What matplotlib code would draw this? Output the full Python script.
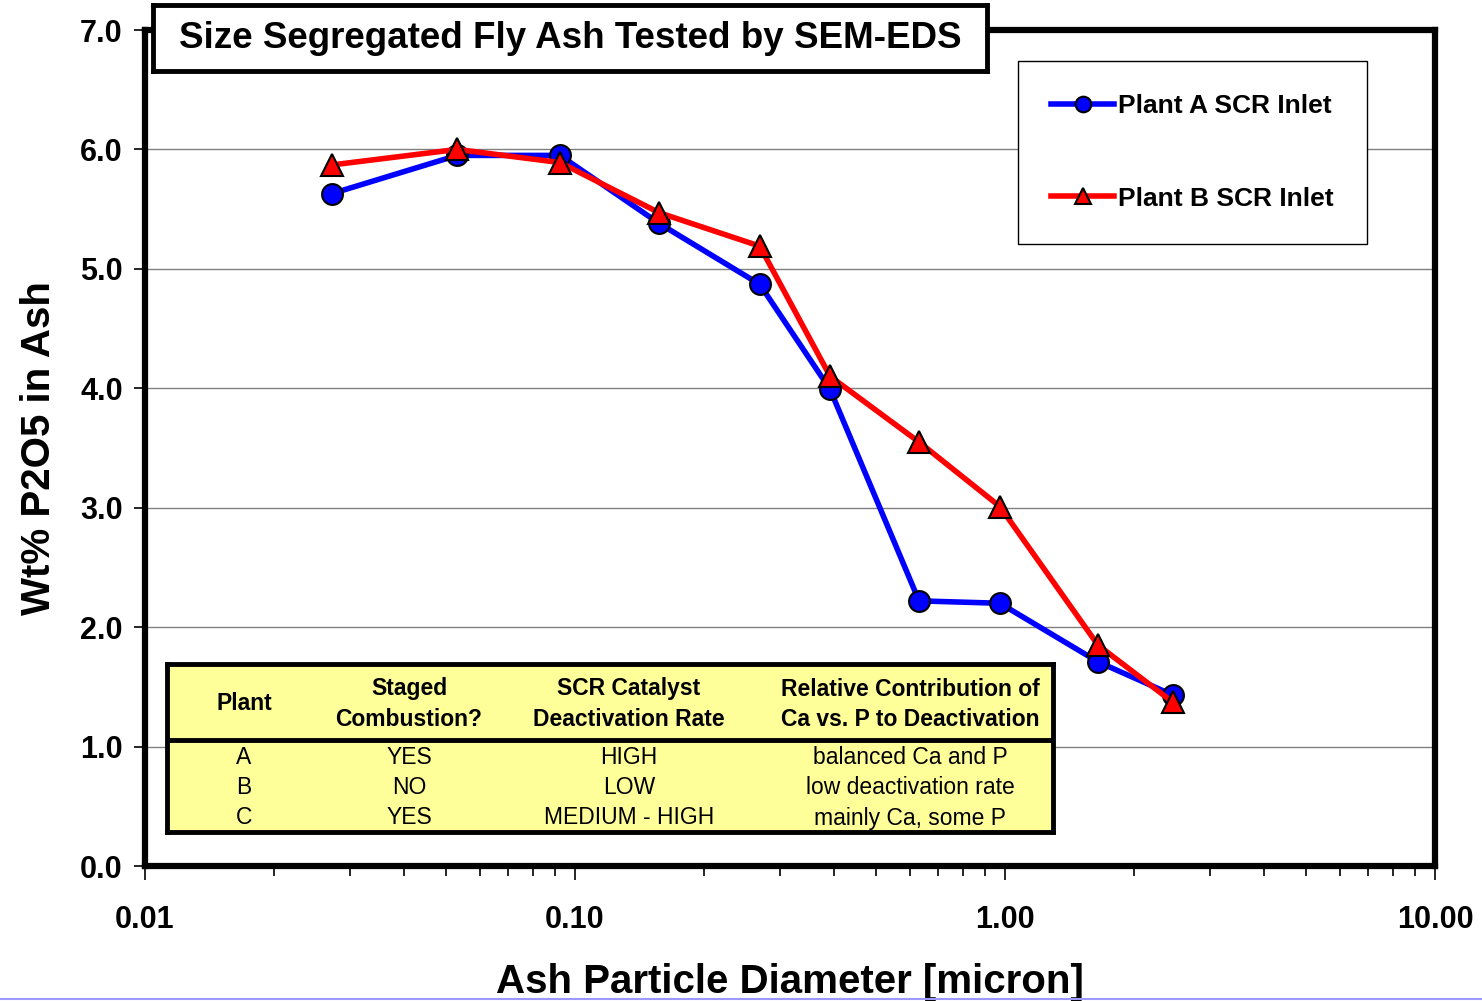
import matplotlib
matplotlib.use('Agg')
import matplotlib.pyplot as plt
from matplotlib.ticker import FixedLocator, FixedFormatter, LogLocator, NullFormatter
from matplotlib.lines import Line2D

plt.rcParams['font.family'] = ['Liberation Sans', 'DejaVu Sans']

# particle diameter [micron]
diam = [0.0272, 0.0532, 0.0923, 0.157, 0.269, 0.392, 0.631, 0.973, 1.645, 2.46]
plant_a = [5.63, 5.95, 5.95, 5.38, 4.87, 3.99, 2.22, 2.20, 1.71, 1.43]
plant_b = [5.87, 6.00, 5.89, 5.47, 5.19, 4.10, 3.55, 3.01, 1.85, 1.37]

title = 'Size Segregated Fly Ash Tested by SEM-EDS'
xlabel = 'Ash Particle Diameter [micron]'
ylabel = 'Wt% P2O5 in Ash'
xticks = [0.01, 0.1, 1, 10]
xtick_labels = ['0.01', '0.10', '1.00', '10.00']

table_header = [['Plant', ''], ['Staged', 'Combustion?'],
                ['SCR Catalyst', 'Deactivation Rate'],
                ['Relative Contribution of', 'Ca vs. P to Deactivation']]
table_rows = [['A', 'YES', 'HIGH', 'balanced Ca and P'],
              ['B', 'NO', 'LOW', 'low deactivation rate'],
              ['C', 'YES', 'MEDIUM - HIGH', 'mainly Ca, some P']]

W, H = 1482, 1001
fig = plt.figure(figsize=(W / 100, H / 100), dpi=100)
ax = fig.add_axes([145 / W, 1 - 866 / H, 1290 / W, 836 / H])

ax.plot(diam, plant_a, color='#0000ff', lw=4, marker='o', ms=15,
        mfc='#0000ff', mec='black', mew=1.5, label='Plant A SCR Inlet', zorder=3)
ax.plot(diam, plant_b, color='#ff0000', lw=4, marker='^', ms=16,
        mfc='#ff0000', mec='black', mew=1.5, label='Plant B SCR Inlet', zorder=4)

ax.set_xscale('log')
ax.set_xlim(0.01, 10)
ax.set_ylim(0, 7)
ax.xaxis.set_major_locator(FixedLocator(xticks))
ax.xaxis.set_major_formatter(FixedFormatter(xtick_labels))
ax.xaxis.set_minor_locator(LogLocator(base=10, subs=range(2, 10)))
ax.xaxis.set_minor_formatter(NullFormatter())
ax.set_yticks(range(0, 8))
ax.set_yticklabels(['%.1f' % v for v in range(0, 8)])
ax.yaxis.grid(True, color='#808080', lw=1)
ax.set_axisbelow(True)
for s in ax.spines.values():
    s.set_linewidth(4.5)
ax.tick_params(axis='both', which='major', direction='out', length=8, width=1.2,
               labelsize=22, pad=8)
ax.tick_params(axis='x', which='minor', direction='out', length=7, width=1.2)
ax.tick_params(axis='x', which='major', length=10, pad=18)
for lab in ax.get_xticklabels() + ax.get_yticklabels():
    lab.set_fontweight('bold')

ax.set_xlabel(xlabel, fontsize=29, fontweight='bold', labelpad=20)
ax.set_ylabel(ylabel, fontsize=29, fontweight='bold', labelpad=16)

leg = ax.legend(loc='upper left', bbox_to_anchor=(1018 / W, 1 - 61 / H),
                bbox_transform=fig.transFigure, fontsize=19, frameon=True,
                fancybox=False, edgecolor='black', framealpha=1,
                labelspacing=2.6, borderpad=1.25, handlelength=2.4,
                handletextpad=0.15, borderaxespad=0, markerscale=0.75)
leg.get_frame().set_linewidth(1)
for t in leg.get_texts():
    t.set_fontweight('bold')

# title box
tax = fig.add_axes([153 / W, 1 - 71 / H, 834 / W, 66 / H], zorder=5)
tax.set_xticks([])
tax.set_yticks([])
for s in tax.spines.values():
    s.set_linewidth(3.5)
tax.text(0.5, 0.5, title, ha='center', va='center', fontsize=26.5,
         fontweight='bold', transform=tax.transAxes)

# table box
tb = fig.add_axes([167 / W, 1 - 832 / H, 886 / W, 168 / H], zorder=5)
tb.set_facecolor('#ffff99')
tb.set_xlim(167, 1053)
tb.set_ylim(832, 664)
tb.set_xticks([])
tb.set_yticks([])
for s in tb.spines.values():
    s.set_linewidth(3.5)
tb.axhline(740, color='black', lw=3.5)
col_x = [244, 409, 629, 910]
for cx, (h1, h2) in zip(col_x, table_header):
    if h2:
        tb.text(cx, 689, h1, ha='center', va='center', fontsize=16.5,
                fontweight='bold')
        tb.text(cx, 720, h2, ha='center', va='center', fontsize=16.5,
                fontweight='bold')
    else:
        tb.text(cx, 704, h1, ha='center', va='center', fontsize=16.5,
                fontweight='bold')
for ry, row in zip([758, 788, 818], table_rows):
    for cx, val in zip(col_x, row):
        tb.text(cx, ry, val, ha='center', va='center', fontsize=16.5)

fig.add_artist(Line2D([0, 1], [0.002, 0.002], color='#9999ff', lw=1.5,
                      transform=fig.transFigure))

fig.savefig('out.png', dpi=100)
